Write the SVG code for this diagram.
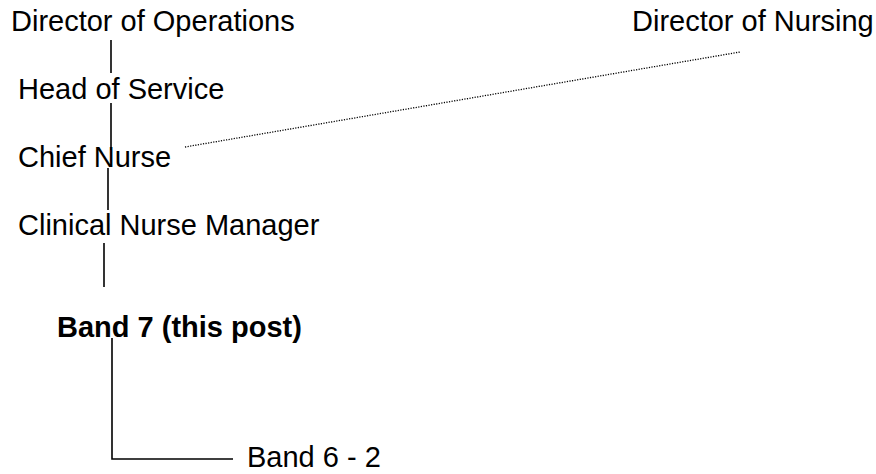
<svg xmlns="http://www.w3.org/2000/svg" width="876" height="474" viewBox="0 0 876 474">
<style>
text{font-family:"Liberation Sans",Arial,sans-serif;font-size:29px;fill:#000}
.b{font-weight:bold}
.ln{stroke:#000;stroke-width:1.6;fill:none}
.dot{stroke:#000;stroke-width:1.3;stroke-dasharray:1.2 1.4;fill:none}
</style>
<rect width="876" height="474" fill="#fff"/>
<g id="connectors">
<line class="ln" x1="111" y1="40" x2="111" y2="73"/>
<line class="ln" x1="111" y1="103" x2="111" y2="150"/>
<line class="ln" x1="108" y1="168" x2="108" y2="210"/>
<line class="ln" x1="104" y1="243" x2="104" y2="287"/>
<polyline class="ln" points="112,338 112,459 233,459"/>
<line class="dot" x1="185" y1="147" x2="740" y2="52"/>
</g>
<g id="dir-ops"><text x="11" y="31">Director of Operations</text></g>
<g id="dir-nursing"><text x="632" y="31">Director of Nursing</text></g>
<g id="head-service"><text x="18" y="99">Head of Service</text></g>
<g id="chief-nurse"><text x="18" y="167">Chief Nurse</text></g>
<g id="cnm"><text x="18" y="235">Clinical Nurse Manager</text></g>
<g id="band7"><text class="b" x="57" y="337">Band 7 (this post)</text></g>
<g id="band6"><text x="247" y="467">Band 6 - 2</text></g>
</svg>
